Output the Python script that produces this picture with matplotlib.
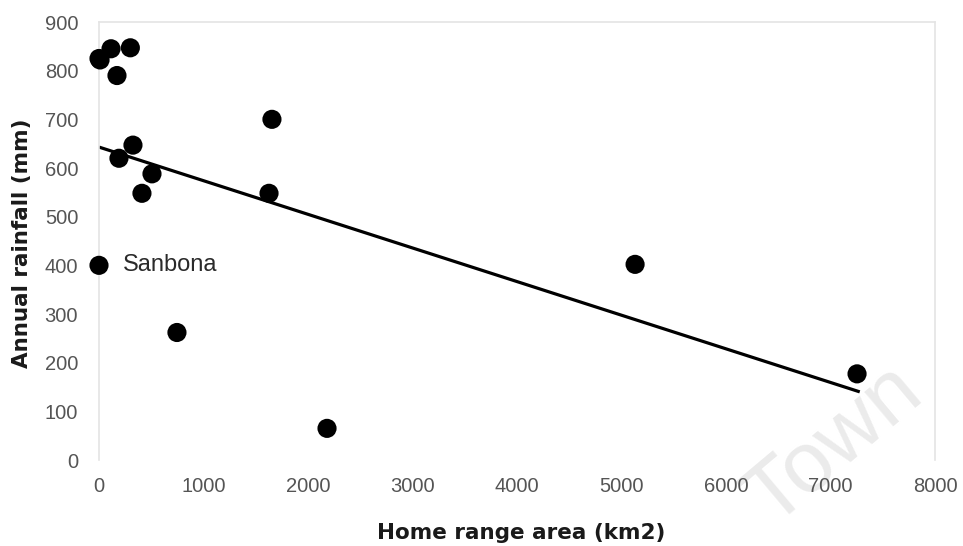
"""
Annual rainfall vs home range area: scatter with linear trend line.
"""
import matplotlib
matplotlib.use("Agg")
import matplotlib.pyplot as plt

# Points
home_range = [0, 115, 300, 10, 172, 1655, 325, 191, 507, 411, 1627, 0, 746, 2182, 5130, 7254]
rainfall = [825, 845, 847, 822, 790, 700, 647, 620, 588, 548, 548, 400, 262, 65, 402, 177]

# Trend line endpoints (as drawn)
trend_x = [0, 7280]
trend_y = [643, 140]

x_ticks = [0, 1000, 2000, 3000, 4000, 5000, 6000, 7000, 8000]
y_ticks = [0, 100, 200, 300, 400, 500, 600, 700, 800, 900]

label_name = "Sanbona"
label_pt = (0, 400)

fig = plt.figure(figsize=(9.63, 5.46), dpi=100)
ax = fig.add_axes([99 / 963, 86 / 546, 836 / 963, 438 / 546])
ax.set_facecolor("none")

ax.plot(trend_x, trend_y, "-", color="black", lw=2.3, zorder=2, solid_capstyle="butt")
ax.scatter(home_range, rainfall, s=190, color="black", edgecolors="none", zorder=3,
           clip_on=False)
ax.annotate(label_name, xy=label_pt, xytext=(17, 0), textcoords="offset points",
            fontsize=17, family="Liberation Sans", color="#2a2a2a", va="center")

ax.set_xlim(0, 8000)
ax.set_ylim(0, 900)
ax.set_xticks(x_ticks)
ax.set_yticks(y_ticks)
ax.tick_params(length=0, labelsize=14.5, labelcolor="#555555")
ax.tick_params(axis="x", pad=12)
ax.tick_params(axis="y", pad=15)
for lab in ax.get_xticklabels() + ax.get_yticklabels():
    lab.set_family("Liberation Sans")

for side in ["top", "right", "left"]:
    ax.spines[side].set_color("#e4e4e4")
    ax.spines[side].set_linewidth(1.2)
ax.spines["bottom"].set_visible(False)

fig.text(521 / 963, 1 - 533 / 546, "Home range area (km2)", ha="center", va="center",
         fontsize=15.5, fontweight="bold", color="#1a1a1a")
fig.text(22 / 963, 1 - 243 / 546, "Annual rainfall (mm)", ha="center", va="center",
         rotation=90, fontsize=15.5, fontweight="bold", color="#1a1a1a")

# faint watermark behind the axes
fig.text(834 / 963, 1 - 446 / 546, "Town", ha="center", va="center", rotation=40,
         fontsize=62, family="Liberation Sans", color="#ebebeb", zorder=-1)

fig.savefig("out.png", dpi=100)
